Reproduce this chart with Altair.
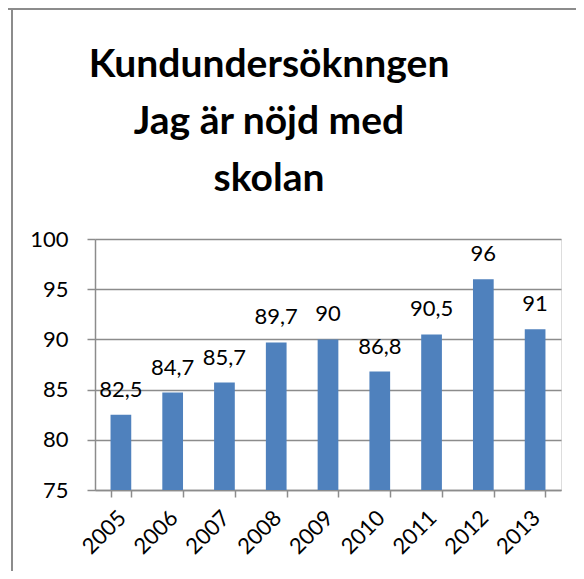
import altair as alt
import pandas as pd

years = ["2005", "2006", "2007", "2008", "2009", "2010", "2011", "2012", "2013"]
values = [82.5, 84.7, 85.7, 89.7, 90, 86.8, 90.5, 96, 91]
labels = ["82,5", "84,7", "85,7", "89,7", "90", "86,8", "90,5", "96", "91"]
y_ticks = [75, 80, 85, 90, 95, 100]
title_lines = ["Kundundersöknngen", "Jag är nöjd med", "skolan"]

df = pd.DataFrame({"year": years, "value": values, "label": labels})

GRAY = "#8c8c8c"
FONT = "Lato"

x_enc = alt.X(
    "year:N",
    sort=years,
    title=None,
    scale=alt.Scale(paddingInner=0.6, paddingOuter=0.3),
    axis=alt.Axis(
        labelAngle=-45,
        labelAlign="right",
        labelBaseline="top",
        tickBand="extent",
        tickSize=7,
        tickColor=GRAY,
        tickWidth=1.5,
        domainColor=GRAY,
        domainWidth=1.5,
        labelFont=FONT,
        labelFontSize=22,
        labelColor="black",
        labelPadding=10,
        labelOffset=-6,
        grid=False,
    ),
)

y_scale = alt.Scale(domain=[75, 100], zero=False, nice=False)
y_enc = alt.Y(
    "value:Q",
    title=None,
    scale=y_scale,
    axis=alt.Axis(
        values=y_ticks,
        tickSize=8,
        tickColor=GRAY,
        tickWidth=1.5,
        domainColor=GRAY,
        domainWidth=1.5,
        gridColor=GRAY,
        gridWidth=1.5,
        labelFont=FONT,
        labelFontSize=22,
        labelColor="black",
        labelPadding=19,
    ),
)

base = alt.Chart(df)

bars = base.mark_bar(color="#4F81BD").encode(
    x=x_enc,
    y=y_enc,
    y2=alt.datum(75),
)

text = base.mark_text(
    baseline="alphabetic", dy=-18, font=FONT, fontSize=22, color="black"
).encode(
    x=alt.X("year:N", sort=years),
    y=alt.Y("value:Q", scale=y_scale),
    text="label:N",
)

frame_df = pd.DataFrame({"k": [0]})
left_line = alt.Chart(frame_df).mark_rule(color=GRAY, strokeWidth=2).encode(
    x=alt.value(-83), y=alt.value(-230), y2=alt.value(340)
)
top_line = alt.Chart(frame_df).mark_rule(color=GRAY, strokeWidth=2).encode(
    x=alt.value(-95), x2=alt.value(489), y=alt.value(-230)
)

chart = (
    alt.layer(bars, text, left_line, top_line)
    .properties(
        width=466,
        height=251,
        title=alt.Title(
            text=title_lines,
            font=FONT,
            fontSize=39,
            fontWeight="bold",
            color="black",
            lineHeight=57,
            anchor="middle",
            dx=-59,
            offset=-230,
            baseline="bottom",
        ),
        autosize=alt.AutoSizeParams(type="none"),
        padding={"left": 87, "top": 231, "right": 15, "bottom": 81},
    )
    .configure_view(stroke=None)
    .configure(background="white")
)

chart.save("out.html", embed_options={"renderer": "svg", "actions": False})
